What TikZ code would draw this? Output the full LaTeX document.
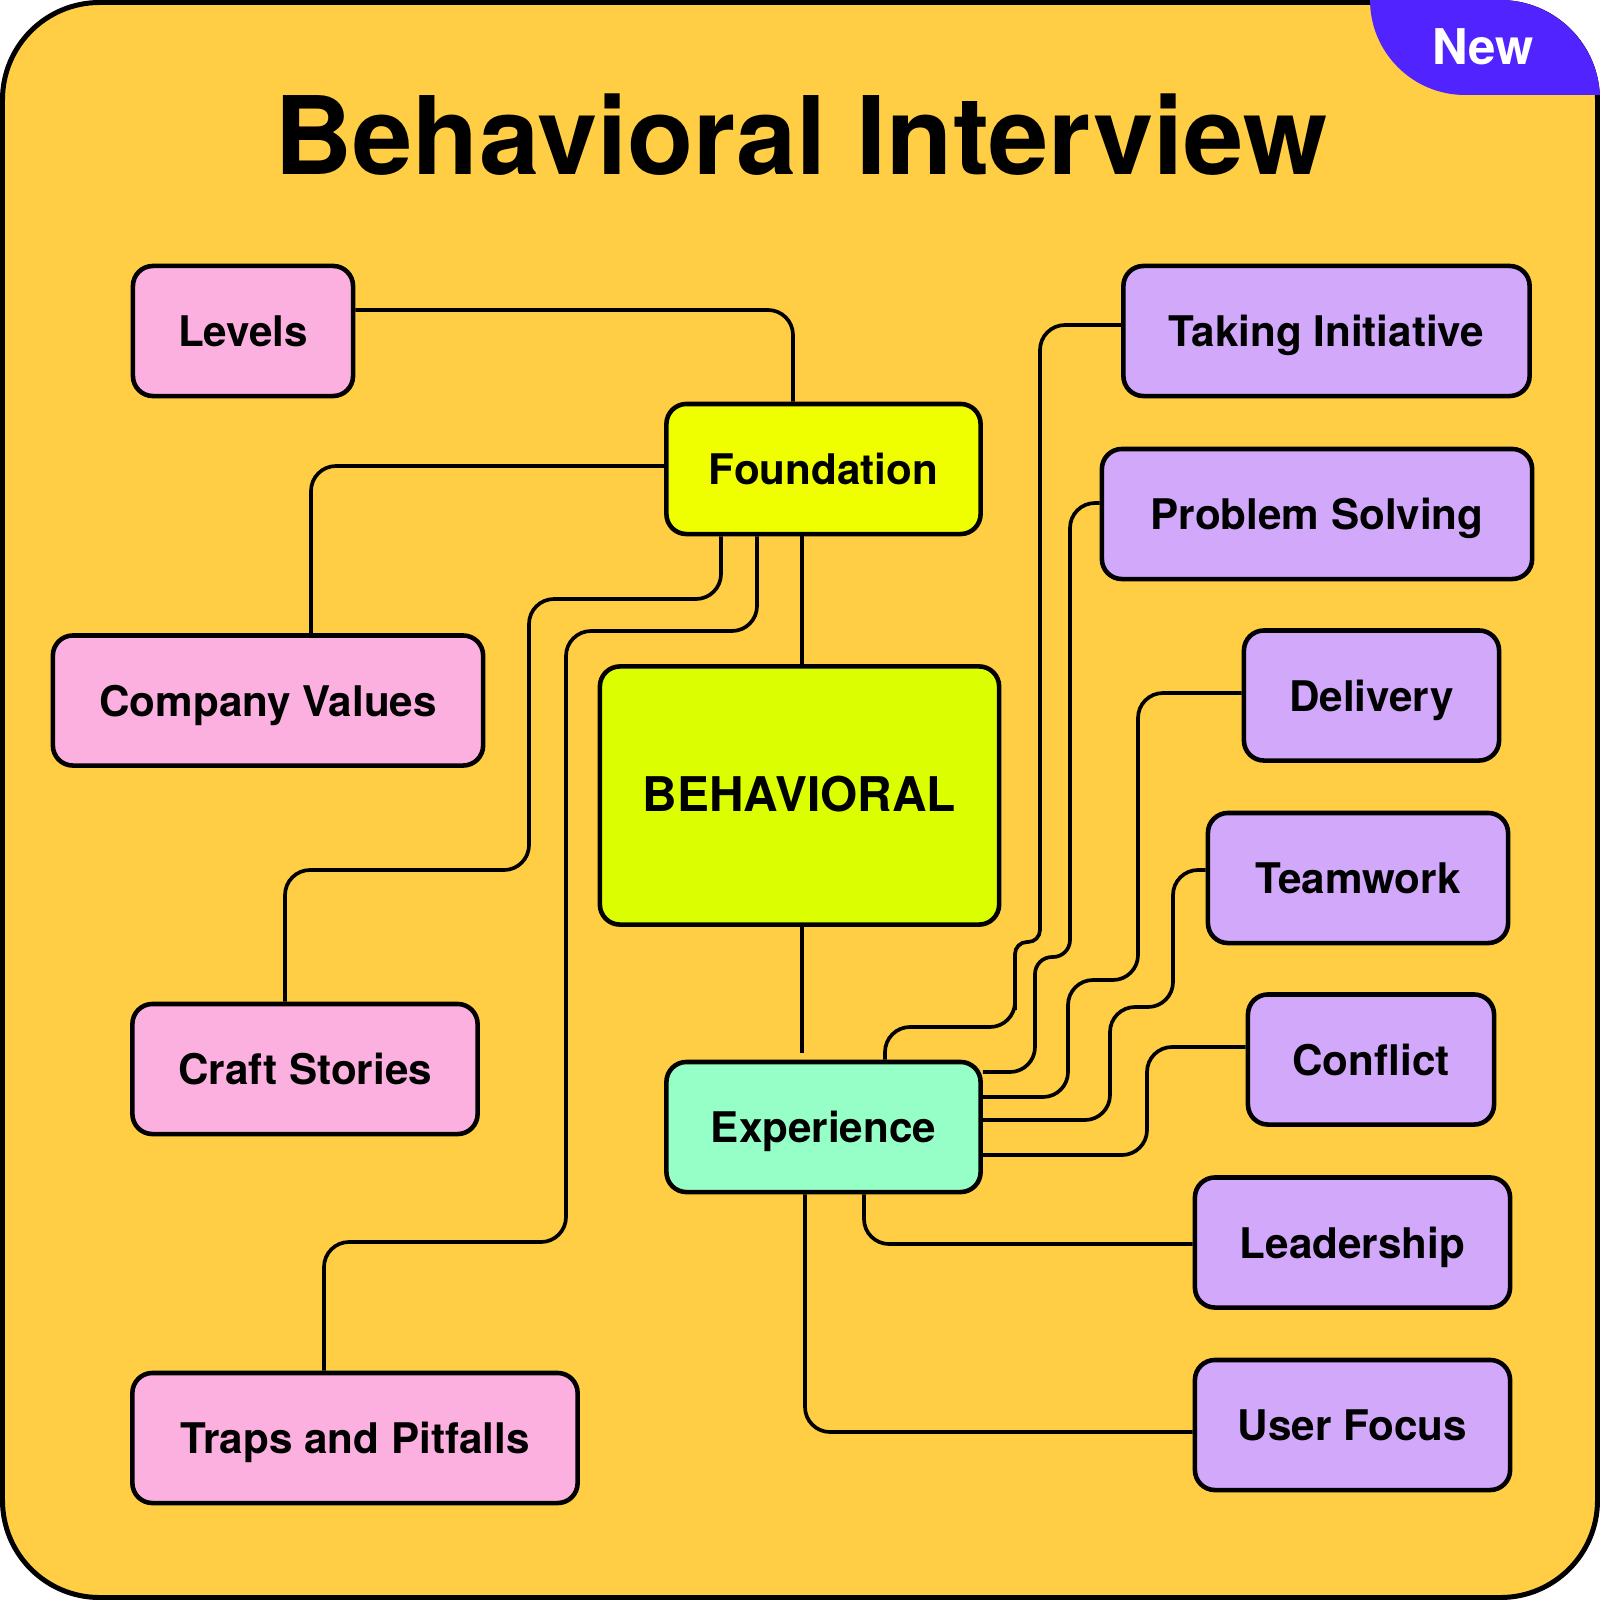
\documentclass[tikz,border=0pt]{standalone}
\usepackage{fontspec}
\setmainfont{TeX Gyre Heros}

\definecolor{bgyellow}{HTML}{FFCE45}
\definecolor{newblue}{HTML}{5023FF}
\definecolor{prepink}{HTML}{FCB0E0}
\definecolor{topicpurple}{HTML}{D2A8FB}
\definecolor{foundyellow}{HTML}{F0FF00}
\definecolor{behavlime}{HTML}{DBFF00}
\definecolor{expmint}{HTML}{96FFC8}

\begin{document}
\begin{tikzpicture}[
    x=0.01cm, y=-0.01cm,
    box/.style={draw=black, line width=1.3pt, rounded corners=0.2cm, inner sep=0pt,
      minimum height=1.3cm, text height=0.9em, text depth=0pt,
      font=\bfseries\fontsize{12}{14}\selectfont},
    prep/.style={box, fill=prepink},
    topic/.style={box, fill=topicpurple},
    link/.style={line width=1.05pt, rounded corners=0.25cm}
]
\useasboundingbox (0,0) rectangle (1600,1600);
\fill[white] (0,0) rectangle (1600,1600);
\draw[line width=1.42pt, fill=bgyellow, rounded corners=0.97cm] (2.5,2.5) rectangle (1597.5,1597.5);

% badge in the corner
\begin{scope}
  \clip[rounded corners=1cm] (0,0) rectangle (1600,1600);
  \fill[newblue, rounded corners=0.95cm] (1370,-200) |- (1800,95) -- (1800,-200) -- cycle;
\end{scope}
\node[text=white, anchor=base, font=\bfseries\fontsize{14}{16}\selectfont] (new) at (1483,65) {New};
\node[anchor=base, font=\bfseries\fontsize{30.8}{36}\selectfont] (title) at (801,175) {Behavioral Interview};

% centre column
\node[box, fill=foundyellow, minimum width=3.14cm] (found) at (823.5,469) {Foundation};
\node[box, fill=behavlime, minimum width=3.99cm, minimum height=2.58cm,
  font=\bfseries\fontsize{13.6}{16}\selectfont] (behav) at (799.5,795.5) {BEHAVIORAL};
\node[box, fill=expmint, minimum width=3.14cm] (exp) at (823.5,1127) {Experience};

% left side
\node[prep, minimum width=2.20cm] (levels) at (243,331) {Levels};
\node[prep, minimum width=4.30cm] (cval) at (268,700.5) {Company Values};
\node[prep, minimum width=3.45cm] (craft) at (305,1069) {Craft Stories};
\node[prep, minimum width=4.45cm] (traps) at (355,1438) {Traps and Pitfalls};

% right side
\node[topic, minimum width=4.06cm] (tinit) at (1326.5,331) {Taking Initiative};
\node[topic, minimum width=4.30cm] (ps) at (1317,514) {Problem Solving};
\node[topic, minimum width=2.55cm] (deliv) at (1371.5,695.5) {Delivery};
\node[topic, minimum width=3.00cm] (team) at (1358,878) {Teamwork};
\node[topic, minimum width=2.46cm] (confl) at (1371,1059.5) {Conflict};
\node[topic, minimum width=3.15cm] (lead) at (1352.5,1242.5) {Leadership};
\node[topic, minimum width=3.15cm] (ufoc) at (1352.5,1425) {User Focus};

% foundation links
\draw[link] (levels.east |- 0,310) -| (793,0 |- found.north);
\draw[link] (found.west |- 0,466) -| (311,0 |- cval.north);
\draw[link] (721,0 |- found.south) |- (529,599) |- (285,870) -- (285,0 |- craft.north);
\draw[link] (757,0 |- found.south) |- (566,631) |- (324,1242) -- (324,0 |- traps.north);
\draw[link] (802,0 |- found.south) -- (802,0 |- behav.north);
\draw[link] (802,0 |- behav.south) -- (802,1053);

% experience links
\draw[link] (885,0 |- exp.north) -- (885,1027) -- (1015,1027) -- (1015,985)
  [rounded corners=0.12cm] -- (1015,942) -- (1040,942) -- (1040,600)
  [rounded corners=0.25cm] -- (1040,325) -- (tinit.west |- 0,325);
\draw[link] (exp.east |- 0,1072) -- (1035,1072) -- (1035,1010)
  [rounded corners=0.17cm] -- (1035,957) -- (1070,957) -- (1070,700)
  [rounded corners=0.25cm] -- (1070,503) -- (ps.west |- 0,503);
\draw[link] (exp.east |- 0,1097) -| (1068,980) -| (1138,693) -- (deliv.west |- 0,693);
\draw[link] (exp.east |- 0,1120) -| (1110,1007) -| (1173,870) -- (team.west |- 0,870);
\draw[link] (exp.east |- 0,1155) -| (1147,1047) -- (confl.west |- 0,1047);
\draw[link] (864,0 |- exp.south) |- (lead.west |- 0,1244);
\draw[link] (805,0 |- exp.south) |- (ufoc.west |- 0,1432);
\end{tikzpicture}
\end{document}
